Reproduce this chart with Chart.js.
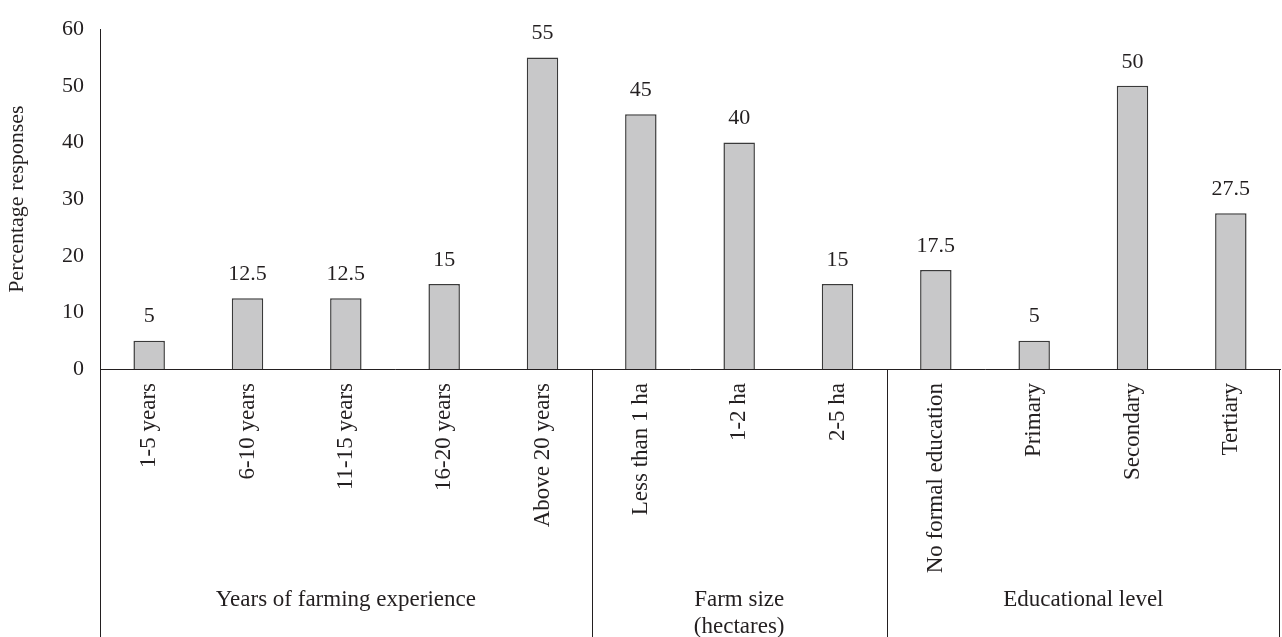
<!DOCTYPE html>
<html>
<head>
<meta charset="utf-8">
<title>Percentage responses</title>
<script src="https://cdn.jsdelivr.net/npm/chart.js@4.4.1/dist/chart.umd.min.js"></script>
<style>
  html, body { margin: 0; padding: 0; background: #fff; }
  #wrap { position: relative; width: 1282px; height: 637px; }
</style>
</head>
<body>
<div id="wrap"><canvas id="chart"></canvas></div>
<script>
// ---------- Data ----------
const categories = [
  '1-5 years', '6-10 years', '11-15 years', '16-20 years', 'Above 20 years',
  'Less than 1 ha', '1-2 ha', '2-5 ha',
  'No formal education', 'Primary', 'Secondary', 'Tertiary'
];
const responses = [5, 12.5, 12.5, 15, 55, 45, 40, 15, 17.5, 5, 50, 27.5];

// groups: label lines + how many categories each one spans
const groupLabels = [
  ['Years of farming experience'],
  ['Farm size', '(hectares)'],
  ['Educational level']
];
const groupSizes = [5, 3, 4];

const yTicks = [0, 10, 20, 30, 40, 50, 60];

// ---------- Look ----------
const INK = '#231f20';
const FONT = '"Liberation Serif", "Times New Roman", serif';

// value above each bar
const valueLabels = {
  id: 'valueLabels',
  afterDatasetsDraw (chart) {
    const ctx = chart.ctx;
    const meta = chart.getDatasetMeta(0);
    ctx.save();
    ctx.font = '22px ' + FONT;
    ctx.fillStyle = INK;
    ctx.textAlign = 'center';
    ctx.textBaseline = 'middle';
    meta.data.forEach((bar, i) => {
      ctx.fillText(String(responses[i]), bar.x, bar.y - 24);
    });
    ctx.restore();
  }
};

// group separators and group names under the category labels
const groupAxis = {
  id: 'groupAxis',
  afterDraw (chart) {
    const ctx = chart.ctx;
    const x = chart.scales.x;
    const area = chart.chartArea;
    const bottom = chart.height;

    // boundaries between categories
    const edge = i => {
      if (i <= 0) return area.left;
      if (i >= categories.length) return area.right;
      return (x.getPixelForTick(i - 1) + x.getPixelForTick(i)) / 2;
    };

    ctx.save();
    ctx.strokeStyle = INK;
    ctx.lineWidth = 1;

    let start = 0;
    const bounds = [0];
    groupSizes.forEach(n => { start += n; bounds.push(start); });

    bounds.forEach((b, k) => {
      const last = k === bounds.length - 1;
      const px = Math.round(edge(b)) + 0.5 - (last ? 1 : 0);
      const top = (k === 0) ? area.top : area.bottom;
      ctx.beginPath();
      ctx.moveTo(px, top);
      ctx.lineTo(px, bottom);
      ctx.stroke();
    });

    ctx.font = '23px ' + FONT;
    ctx.fillStyle = INK;
    ctx.textAlign = 'center';
    ctx.textBaseline = 'middle';
    groupLabels.forEach((lines, g) => {
      const cx = (edge(bounds[g]) + edge(bounds[g + 1])) / 2;
      lines.forEach((line, j) => ctx.fillText(line, cx, 600 + j * 27));
    });
    ctx.restore();
  }
};

// ---------- Chart ----------
new Chart(document.getElementById('chart'), {
  type: 'bar',
  data: {
    labels: categories,
    datasets: [{
      data: responses,
      backgroundColor: '#c8c8c9',
      borderColor: '#3a3a3a',
      borderWidth: 1.5,
      borderSkipped: 'bottom',
      categoryPercentage: 1,
      barPercentage: 0.32
    }]
  },
  options: {
    responsive: true,
    maintainAspectRatio: false,
    animation: false,
    devicePixelRatio: 1,
    layout: { padding: { top: 23, right: 2, left: 0, bottom: 0 } },
    plugins: {
      legend: { display: false },
      tooltip: { enabled: false }
    },
    scales: {
      x: {
        grid: { display: false, drawTicks: false },
        border: { display: true, color: INK, width: 1 },
        ticks: {
          autoSkip: false,
          minRotation: 90,
          maxRotation: 90,
          padding: 14,
          color: INK,
          font: { family: FONT, size: 23 }
        },
        afterFit (scale) { scale.height = 268; }
      },
      y: {
        min: 0,
        max: 60,
        grid: { display: false, drawTicks: false },
        border: { display: true, color: INK, width: 1 },
        afterBuildTicks (scale) { scale.ticks = yTicks.map(v => ({ value: v })); },
        ticks: {
          padding: 16,
          color: INK,
          font: { family: FONT, size: 22 }
        },
        title: {
          display: true,
          text: 'Percentage responses',
          color: INK,
          font: { family: FONT, size: 22 },
          padding: { top: 4, bottom: 0 }
        },
        afterFit (scale) { scale.width = 100; }
      }
    }
  },
  plugins: [valueLabels, groupAxis]
});
</script>
</body>
</html>
